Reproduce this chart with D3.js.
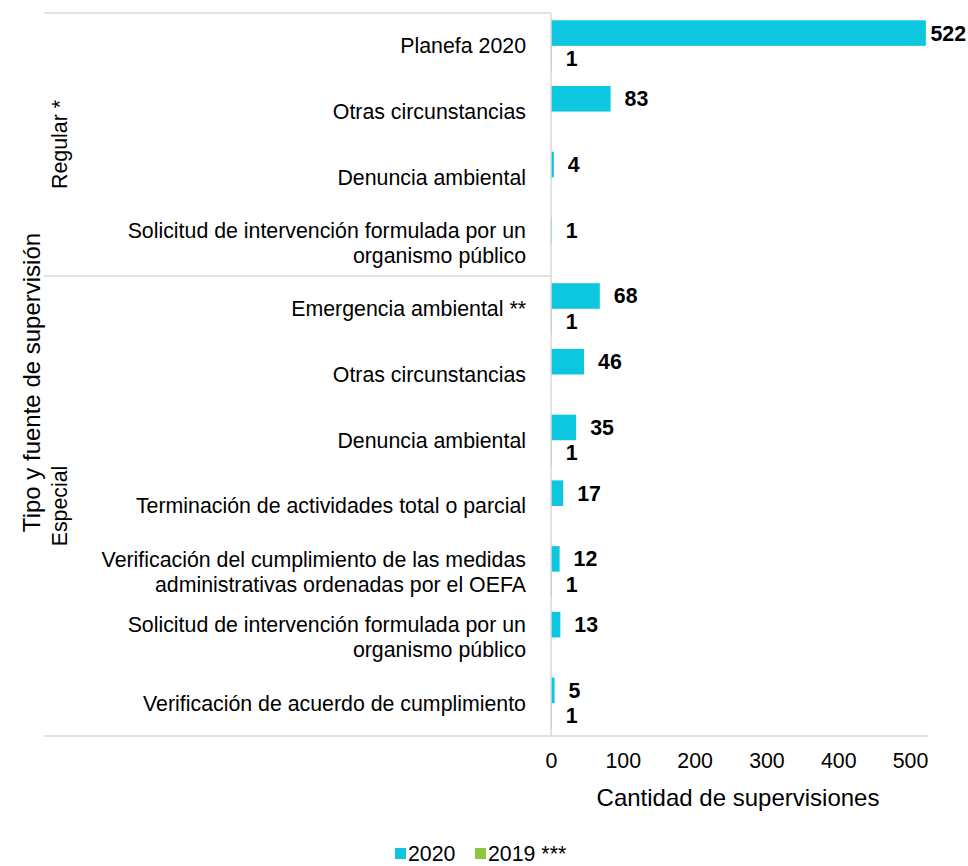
<!DOCTYPE html>
<html><head><meta charset="utf-8">
<script src="https://cdn.jsdelivr.net/npm/d3@7"></script>
<style>html,body{margin:0;padding:0;background:#fff}svg{display:block;font-family:"Liberation Sans",Arial,sans-serif}</style>
</head><body>
<svg id="c" width="968" height="866"></svg>
<script>
const categories = [
  "Planefa 2020",
  "Otras circunstancias",
  "Denuncia ambiental",
  "Solicitud de intervención formulada por un\norganismo público",
  "Emergencia ambiental **",
  "Otras circunstancias",
  "Denuncia ambiental",
  "Terminación de actividades total o parcial",
  "Verificación del cumplimiento de las medidas\nadministrativas ordenadas por el OEFA",
  "Solicitud de intervención formulada por un\norganismo público",
  "Verificación de acuerdo de cumplimiento"
];
const groups = ["Regular *", "Especial"];
const groupOf = [0,0,0,0,1,1,1,1,1,1,1];
const values2020 = [522, 83, 4, 1, 68, 46, 35, 17, 12, 13, 5];
const values2019 = [1, null, null, null, 1, null, 1, null, 1, null, 1];
const seriesNames = ["2020", "2019 ***"];
const xTicks = [0, 100, 200, 300, 400, 500];
const xTitle = "Cantidad de supervisiones";
const yTitle = "Tipo y fuente de supervisión";

(function(){
const W = 968, H = 866;
const colors = ["#0cc7df", "#8dc63f"];
const pLeft = 551, pRight = 928, pTop = 13, pBottom = 736, outerLeft = 44;
const svg = d3.select("#c");

const x = d3.scaleLinear().domain([0, 525]).range([pLeft, pRight]);
const idx = categories.map((d, i) => i);
const y = d3.scaleBand().domain(idx).range([pTop, pBottom]).paddingInner(0.222).paddingOuter(0.111);
const ySub = d3.scaleBand().domain([0, 1]).range([0, y.bandwidth()]);
const step = y.step();

const grid = "#d9d9d9";
svg.append("line").attr("x1", outerLeft).attr("x2", pLeft).attr("y1", pTop).attr("y2", pTop).attr("stroke", grid).attr("stroke-width", 1.5);
svg.append("line").attr("x1", outerLeft).attr("x2", pRight).attr("y1", pBottom).attr("y2", pBottom).attr("stroke", grid).attr("stroke-width", 1.5);
const nRegular = groupOf.filter(g => g === 0).length;
const sepY = pTop + step * nRegular;
svg.append("line").attr("x1", outerLeft).attr("x2", pLeft).attr("y1", sepY).attr("y2", sepY).attr("stroke", grid).attr("stroke-width", 1.5);

const series = [values2020, values2019];
series.forEach((vals, s) => {
  svg.append("g").selectAll("rect").data(idx.filter(i => vals[i] != null)).join("rect")
    .attr("x", x(0))
    .attr("y", i => y(i) + ySub(s))
    .attr("width", i => Math.max(0.8, x(vals[i]) - x(0)))
    .attr("height", ySub.bandwidth())
    .attr("fill", colors[s]);
});
svg.append("line").attr("x1", pLeft).attr("x2", pLeft).attr("y1", pTop).attr("y2", pBottom).attr("stroke", grid).attr("stroke-width", 1.5);

series.forEach((vals, s) => {
  svg.append("g").selectAll("text").data(idx.filter(i => vals[i] != null)).join("text")
    .attr("y", i => y(i) + ySub(s) + ySub.bandwidth() / 2)
    .attr("dy", "0.35em")
    .attr("font-size", 21.33).attr("font-weight", "bold").attr("fill", "#000")
    .text(i => vals[i])
    .each(function(i) {
      const w = this.getComputedTextLength();
      const px = Math.min(x(vals[i]) + 14, W - 2 - w);
      d3.select(this).attr("x", px);
    });
});

const cl = svg.append("g");
idx.forEach(i => {
  const lines = categories[i].split("\n");
  const cy = y(i) + y.bandwidth() / 2;
  const lh = 25;
  const t = cl.append("text").attr("text-anchor", "end").attr("font-size", 21.33).attr("fill", "#000");
  lines.forEach((ln, k) => {
    t.append("tspan").attr("x", 526).attr("y", cy + (k - (lines.length - 1) / 2) * lh).attr("dy", "0.35em").text(ln);
  });
});

const xAxis = d3.axisBottom(x).tickValues(xTicks).tickSize(0).tickPadding(0);
const ax = svg.append("g").attr("transform", `translate(0,${pBottom})`).call(xAxis);
ax.select(".domain").remove();
ax.selectAll("text").attr("font-size", 21.33).attr("fill", "#000").attr("font-family", "Liberation Sans, Arial, sans-serif").attr("dy", null).attr("y", 32);

svg.append("text").attr("x", 738).attr("y", 806).attr("text-anchor", "middle").attr("font-size", 24).attr("fill", "#000").text(xTitle);

svg.append("text").attr("transform", `translate(40,${(pTop + pBottom) / 2 + 8}) rotate(-90)`).attr("text-anchor", "middle").attr("font-size", 24).attr("fill", "#000").text(yTitle);

groups.forEach((g, gi) => {
  const members = idx.filter(i => groupOf[i] === gi);
  const y0 = pTop + step * members[0];
  const y1 = pTop + step * (members[members.length - 1] + 1);
  svg.append("text").attr("transform", `translate(67,${(y0 + y1) / 2}) rotate(-90)`).attr("text-anchor", "middle").attr("font-size", 21.33).attr("fill", "#000").text(g);
});

const legX = [395, 475];
seriesNames.forEach((n, s) => {
  svg.append("rect").attr("x", legX[s]).attr("y", 848).attr("width", 11).attr("height", 11).attr("fill", colors[s]);
  svg.append("text").attr("x", legX[s] + 13).attr("y", 861).attr("font-size", 21.33).attr("fill", "#000").text(n);
});
})();
</script>
</body></html>
